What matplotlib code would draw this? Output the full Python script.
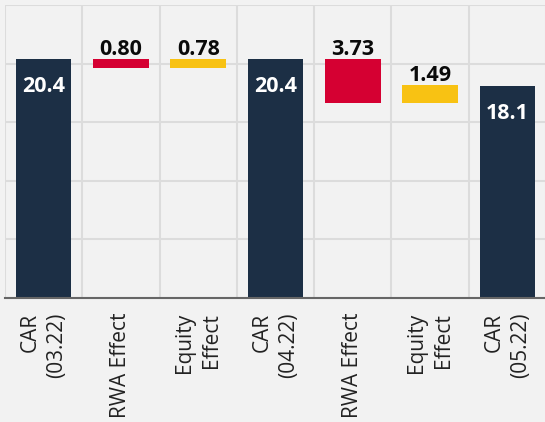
import numpy as np
import matplotlib
matplotlib.use("Agg")
import matplotlib.pyplot as plt
from matplotlib.ticker import FixedLocator

plt.rcParams['font.family'] = ['Open Sans', 'DejaVu Sans']

labels = ["CAR\n(03.22)", "RWA Effect", "Equity\nEffect", "CAR\n(04.22)",
          "RWA Effect", "Equity\nEffect", "CAR\n(05.22)"]
values = [20.4, 0.80, 0.78, 20.4, 3.73, 1.49, 18.1]
kinds = ["total", "down", "up", "total", "down", "up", "total"]
value_text = ["20.4", "0.80", "0.78", "20.4", "3.73", "1.49", "18.1"]

colors = {"total": "#1c2f45", "down": "#d50032", "up": "#f8c213"}
bg = "#f2f2f2"

# waterfall bottoms / heights
bottoms, heights = [], []
level = 0
for v, k in zip(values, kinds):
    if k == "total":
        bottoms.append(0)
        heights.append(v)
        level = v
    elif k == "down":
        level = level - v
        bottoms.append(level)
        heights.append(v)
    else:
        bottoms.append(level)
        heights.append(v)
        level = level + v

fig = plt.figure(figsize=(5.45, 4.22), dpi=100, facecolor=bg)
ax = fig.add_axes([5 / 545, 124.3 / 422, 541 / 545, 292.4 / 422])
ax.set_facecolor(bg)

x = np.arange(len(values))
ax.bar(x, heights, bottom=bottoms, width=0.72,
       color=[colors[k] for k in kinds], zorder=3)

for i, k in enumerate(kinds):
    top = bottoms[i] + heights[i]
    if k == "total":
        ax.annotate(value_text[i], (x[i], top), xytext=(0, -20),
                    textcoords="offset points", ha="center", va="center",
                    color="white", fontsize=15.5, fontweight="bold", zorder=4)
    else:
        ax.annotate(value_text[i], (x[i], top), xytext=(0, 3),
                    textcoords="offset points", ha="center", va="baseline",
                    color="#0a0a0a", fontsize=15.5, fontweight="bold", zorder=4)

ax.set_xlim(-0.5, len(values) - 0.5)
ax.set_ylim(0, 25)
ax.set_yticks(np.arange(0, 26, 5))
ax.set_yticklabels([])
ax.tick_params(axis="y", length=0)

ax.set_xticks(x)
ax.set_xticklabels(labels, rotation=90, fontsize=15, color="#222222",
                   multialignment="right", linespacing=1.35)
ax.tick_params(axis="x", length=0, pad=11)
ax.xaxis.set_minor_locator(FixedLocator(np.arange(-0.5, len(values), 1)))
ax.tick_params(axis="x", which="minor", length=0)

ax.grid(axis="y", which="major", color="#dcdcdc", linewidth=1.5, zorder=0)
ax.grid(axis="x", which="minor", color="#dcdcdc", linewidth=1.5, zorder=0)
ax.grid(axis="x", which="major", visible=False)

for s in ["top", "right", "left"]:
    ax.spines[s].set_visible(False)
ax.spines["bottom"].set_color("#666666")
ax.spines["bottom"].set_linewidth(1.5)
ax.spines["bottom"].set_zorder(5)

fig.savefig("out.png", dpi=100, facecolor=bg)
